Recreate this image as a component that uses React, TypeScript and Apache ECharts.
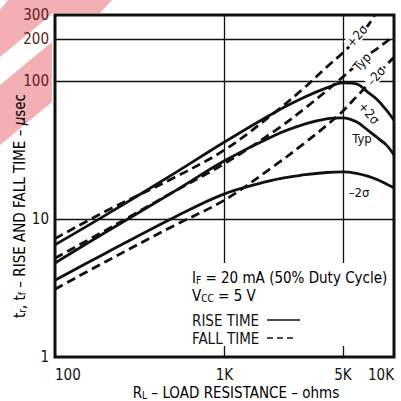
import React, { useEffect, useRef } from 'react';
import * as echarts from 'echarts';

const resistanceOhms = [100, 200, 500, 1000, 2000, 3000, 4000, 5000, 6000, 7000, 8000, 9000, 10000];
const riseTimePlus2Sigma = [6.5, 10.7, 21.2, 36.1, 59.6, 76.6, 89, 96.7, 95, 83, 72.8, 61.6, 52];
const riseTimeTyp = [4.8, 8.05, 15.7, 26.4, 40.6, 48.8, 53.1, 54, 50.5, 44, 38.6, 34.4, 29.1];
const riseTimeMinus2Sigma = [3.6, 5.67, 10.2, 15.2, 19.3, 20.9, 21.7, 21.9, 21.4, 20.4, 19.2, 17.9, 16.8];

const fallPlus2SigmaOhms = [100, 200, 500, 1000, 2000, 3000, 4000, 5000, 6000, 7000, 7700];
const fallTimePlus2Sigma = [7.2, 11.4, 19.8, 31.6, 59.6, 90.6, 125.6, 160, 200, 250, 300];
const fallTimeTyp = [5.2, 8.3, 15.7, 25.2, 43.8, 63.7, 84.7, 107, 130, 153, 172, 192, 210];
const fallTimeMinus2Sigma = [3.1, 4.92, 8.9, 13.7, 24.6, 35.8, 47.6, 60.6, 76.6, 93.5, 110, 130, 148];

const xTickValues = [100, 1000, 5000, 10000];
const xTickLabels = ['100', '1K', '5K', '10K'];
const yTickValues = [1, 10, 100, 200, 300];
const yTickLabels = ['1', '10', '100', '200', '300'];
const gridYValues = [10, 100, 200];
const gridXValues = [1000, 5000];

const FONT = '"Liberation Sans Narrow", "DejaVu Sans Condensed", Arial, sans-serif';
const INK = '#111';
const PINK = '#f3afb3';

function pairs(xs: number[], ys: number[]) {
  return ys.map((y, i) => [xs[i], y]);
}

export default function App() {
  const ref = useRef<HTMLDivElement>(null);
  useEffect(() => {
    const chart = echarts.init(ref.current!, null, { renderer: 'svg' });
    const solid = { color: INK, width: 2.8, type: 'solid' as const };
    const dashed = { color: INK, width: 2.8, type: [9, 5] as any };
    const mkSeries = (name: string, data: number[][], ls: any, extra: any = {}) => ({
      name,
      type: 'line',
      data,
      showSymbol: false,
      smooth: 0.35,
      lineStyle: ls,
      z: 5,
      ...extra,
    });
    const sub = { fontSize: 10, fontFamily: FONT, color: INK, padding: [4, 0, 0, 0] };
    const main = { fontSize: 15, fontFamily: FONT, color: INK };
    const curveLabel = (text: string, x: number, y: number, rotation: number, bg = true) => ({
      type: 'text',
      x,
      y,
      rotation,
      z: 120,
      style: {
        text,
        fontSize: 13,
        fontFamily: FONT,
        fill: INK,
        align: 'center',
        verticalAlign: 'middle',
        backgroundColor: bg ? '#fff' : 'transparent',
        padding: [0, 1, 0, 1],
      },
    });
    const option: any = {
      animation: false,
      backgroundColor: '#fff',
      grid: {
        left: 55,
        top: 15,
        width: 339,
        height: 342,
        show: true,
        borderColor: INK,
        borderWidth: 3,
        backgroundColor: 'transparent',
      },
      xAxis: {
        type: 'log',
        logBase: 10,
        min: 100,
        max: 10000,
        axisLine: { show: false },
        axisTick: { show: false },
        splitLine: { show: false },
        minorTick: { show: false },
        axisLabel: {
          customValues: xTickValues,
          formatter: (v: number) => xTickLabels[xTickValues.indexOf(Math.round(v))] ?? '',
          fontSize: 15,
          fontFamily: FONT,
          color: INK,
          margin: 10,
          alignMinLabel: 'left',
          alignMaxLabel: 'right',
        },
      },
      yAxis: {
        type: 'log',
        logBase: 10,
        min: 1,
        max: 300,
        axisLine: { show: false },
        axisTick: { show: false },
        splitLine: { show: false },
        minorTick: { show: false },
        axisLabel: {
          customValues: yTickValues,
          formatter: (v: number) => {
            const i = yTickValues.indexOf(Math.round(v));
            const t = yTickLabels[i] ?? '';
            return v >= 100 ? '{m|' + t + '}' : t;
          },
          rich: { m: { color: '#5a1c20', fontSize: 15, fontFamily: FONT } },
          fontSize: 15,
          fontFamily: FONT,
          color: INK,
          margin: 6,
        },
      },
      series: [
        mkSeries('Rise +2σ', pairs(resistanceOhms, riseTimePlus2Sigma), solid, {
          markLine: {
            silent: true,
            symbol: ['none', 'none'],
            label: { show: false },
            lineStyle: { color: INK, width: 1.3, type: 'solid' },
            z: 3,
            data: [
              ...gridYValues.map((v) => ({ yAxis: v })),
              ...gridXValues.map((v) => ({ xAxis: v })),
            ],
          },
        }),
        mkSeries('Rise Typ', pairs(resistanceOhms, riseTimeTyp), solid),
        mkSeries('Rise -2σ', pairs(resistanceOhms, riseTimeMinus2Sigma), solid),
        mkSeries('Fall +2σ', pairs(fallPlus2SigmaOhms, fallTimePlus2Sigma), dashed),
        mkSeries('Fall Typ', pairs(resistanceOhms, fallTimeTyp), dashed),
        mkSeries('Fall -2σ', pairs(resistanceOhms, fallTimeMinus2Sigma), dashed),
      ],
      graphic: {
        elements: [
          { type: 'polygon', z: -10, shape: { points: [[8, 0], [112, 0], [100, 13], [52, 13], [52, 14], [0, 57], [0, 10]] }, style: { fill: PINK } },
          { type: 'polygon', z: -10, shape: { points: [[0, 85], [52, 42], [52, 102], [0, 145]] }, style: { fill: PINK } },
          { type: 'rect', z: 100, shape: { x: 188, y: 263, width: 202, height: 83 }, style: { fill: '#fff' } },
          {
            type: 'text', x: 192, y: 278, z: 110,
            style: { text: '{a|I}{s|F}{a| = 20 mA (50% Duty Cycle)}', rich: { a: main, s: sub }, verticalAlign: 'middle' },
          },
          {
            type: 'text', x: 192, y: 296, z: 110,
            style: { text: '{a|V}{s|CC}{a| = 5 V}', rich: { a: main, s: sub }, verticalAlign: 'middle' },
          },
          {
            type: 'text', x: 192, y: 321, z: 110,
            style: { text: 'RISE TIME', fontSize: 15, fontFamily: FONT, fill: INK, verticalAlign: 'middle' },
          },
          { type: 'line', z: 110, shape: { x1: 267, y1: 320, x2: 300, y2: 320 }, style: { stroke: INK, lineWidth: 1.5 } },
          {
            type: 'text', x: 192, y: 339, z: 110,
            style: { text: 'FALL TIME', fontSize: 15, fontFamily: FONT, fill: INK, verticalAlign: 'middle' },
          },
          { type: 'line', z: 110, shape: { x1: 267, y1: 338, x2: 294, y2: 338 }, style: { stroke: INK, lineWidth: 1.5, lineDash: [6, 4] } },
          curveLabel('+2σ', 357, 36, 0.85),
          curveLabel('Typ', 362, 62, 0.85),
          curveLabel('–2σ', 376, 76, 0.85),
          curveLabel('+2σ', 369, 113, -0.85, false),
          curveLabel('Typ', 362, 138, 0, false),
          curveLabel('–2σ', 359, 192, 0, false),
          {
            type: 'text', x: 20, y: 206, rotation: Math.PI / 2, z: 110,
            style: {
              text: '{a|t}{s|r}{a|, t}{s|f}{a| – RISE AND FALL TIME – }{i|μ}{a|sec}',
              rich: { a: main, s: sub, i: { ...main, fontStyle: 'italic' } },
              align: 'center',
              verticalAlign: 'middle',
            },
          },
          {
            type: 'text', x: 236, y: 393, z: 110,
            style: {
              text: '{a|R}{s|L}{a| – LOAD RESISTANCE – ohms}',
              rich: { a: main, s: sub },
              align: 'center',
              verticalAlign: 'middle',
            },
          },
        ],
      },
    };
    chart.setOption(option);
    return () => chart.dispose();
  }, []);
  return (
    <div
      ref={ref}
      style={{ position: 'fixed', left: 0, top: 0, width: 401, height: 401, background: '#fff' }}
    />
  );
}
